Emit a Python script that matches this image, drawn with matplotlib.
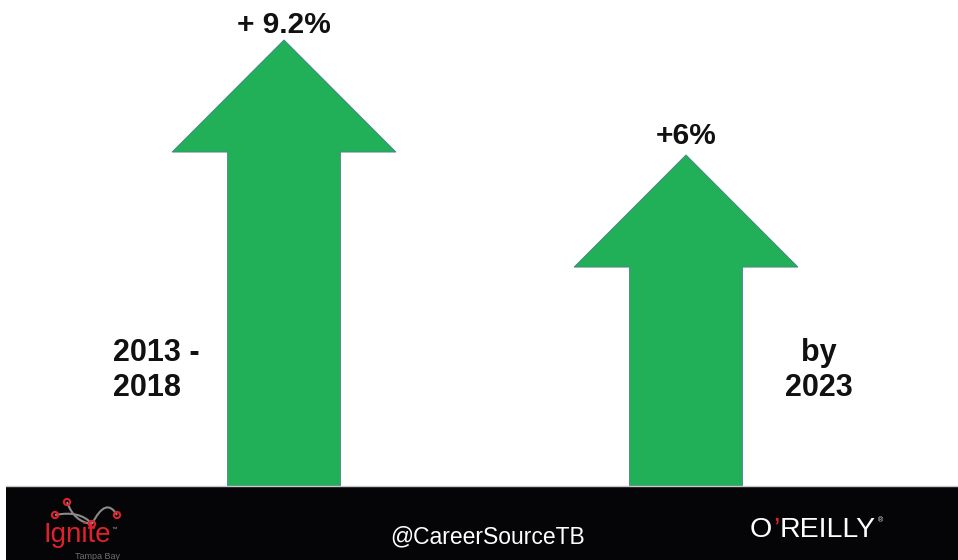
import matplotlib.pyplot as plt
import numpy as np
from matplotlib.patches import FancyArrow, PathPatch
from matplotlib.path import Path
from matplotlib.lines import Line2D

plt.rcParams['font.family'] = ['Liberation Sans', 'DejaVu Sans']

# growth figures shown as arrows
periods = ["2013 -\n2018", "by\n2023"]
growth = [9.2, 6.0]
growth_labels = ["+ 9.2%", "+6%"]

W, H = 958, 560
FOOT = 74  # footer band height in px

fig = plt.figure(figsize=(W / 100, H / 100), dpi=100)
fig.patch.set_facecolor('white')

# main panel: white area above the footer
ax = fig.add_axes([0, FOOT / H, 1, (H - FOOT) / H])
ax.set_xlim(-0.7065, 1.6766)
ax.set_ylim(-3.21, 10.31)
ax.axis('off')

base = ax.get_ylim()[0]
green = '#21b057'
for i, g in enumerate(growth):
    arr = FancyArrow(i, base, 0, g - base, width=0.281, head_width=0.557,
                     head_length=3.12, length_includes_head=True,
                     fc=green, ec='#4d7f8c', lw=0.6)
    ax.add_patch(arr)

label_offsets = [5, 8]
for i, (g, lab) in enumerate(zip(growth, growth_labels)):
    ax.annotate(lab, (i, g), xytext=(0, label_offsets[i]), textcoords='offset points',
                ha='center', va='baseline', fontsize=21.5, fontweight='bold', color='#111111')

# period captions beside the arrows
ax.text(-0.425, 0.0, periods[0], ha='left', va='center', fontsize=22,
        fontweight='bold', color='#111111', linespacing=1.2)
ax.text(1.331, 0.0, periods[1], ha='center', va='center', fontsize=22,
        fontweight='bold', color='#111111', linespacing=1.2)

# thin grey rule above the footer
fig.add_artist(Line2D([6 / W, 1], [(FOOT + 0.5) / H] * 2, color='#c8c8c8', lw=1))

# footer band in pixel coordinates
fx = fig.add_axes([6 / W, 0, 1 - 6 / W, FOOT / H])
fx.set_xlim(6, W)
fx.set_ylim(H, H - FOOT)
fx.set_facecolor('#050508')
fx.set_xticks([])
fx.set_yticks([])
for s in fx.spines.values():
    s.set_visible(False)

# Ignite logo: swirl with red nodes
red = '#e0202a'
hub = (92, 524)
curves = [
    [(67, 502), (74, 522), hub],
    [(55, 515), (80, 510), hub],
    [(117, 515), (106, 496), hub],
]
for pts in curves:
    p = Path(pts, [Path.MOVETO, Path.CURVE3, Path.CURVE3])
    fx.add_patch(PathPatch(p, fc='none', ec='#8a8a8a', lw=1.5))
nodes = np.array([(67, 502), (55, 515), (117, 515), hub])
fx.scatter(nodes[:, 0], nodes[:, 1], s=20, facecolors='none', edgecolors=red, lw=1.5, zorder=3)
fx.text(43, 542, "Ignite", color=red, fontsize=20, ha='left', va='baseline')
fx.text(111, 531, "\u2122", color='#aaaaaa', fontsize=4, ha='left', va='baseline')
fx.text(75, 559, "Tampa Bay", color='#6e6e6e', fontsize=6.5, ha='left', va='baseline')

fx.text(488, 543, "@CareerSourceTB", color='white', fontsize=16.5, ha='center', va='baseline')

# O'REILLY wordmark with red apostrophe
fx.text(750, 537, "O", color='white', fontsize=20.5, ha='left', va='baseline')
fx.text(773, 537, "\u2019", color=red, fontsize=20.5, ha='left', va='baseline')
fx.text(780, 537, "REILLY", color='white', fontsize=20.5, ha='left', va='baseline')
fx.text(878, 522, "\u00ae", color='white', fontsize=5, ha='left', va='baseline')

fig.savefig("out.png", dpi=100)
